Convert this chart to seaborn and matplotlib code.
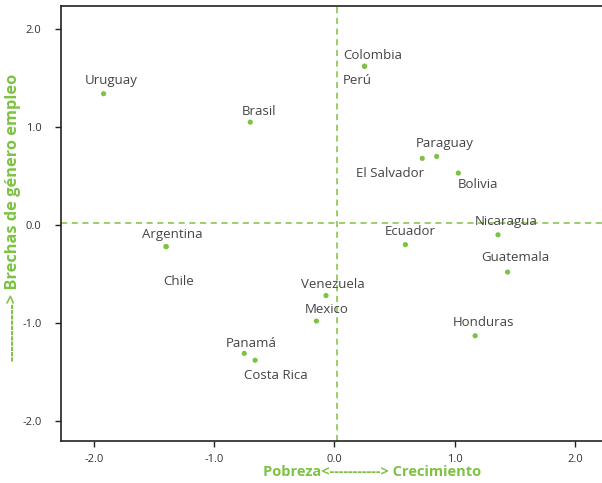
import numpy as np
import pandas as pd
import matplotlib.pyplot as plt
import seaborn as sns

# data
paises = ['Uruguay', 'Brasil', 'Colombia', 'Perú', 'Paraguay', 'El Salvador', 'Bolivia',
          'Nicaragua', 'Ecuador', 'Guatemala', 'Honduras', 'Venezuela', 'Mexico',
          'Argentina', 'Chile', 'Panamá', 'Costa Rica']
crecimiento = [-1.92, -0.70, 0.25, 0.25, 0.85, 0.73, 1.03,
               1.36, 0.59, 1.44, 1.17, -0.07, -0.15,
               -1.40, -1.40, -0.75, -0.66]
brechas = [1.34, 1.05, 1.62, 1.62, 0.70, 0.68, 0.53,
           -0.10, -0.20, -0.48, -1.13, -0.72, -0.98,
           -0.22, -0.22, -1.31, -1.38]
ticks = [-2.0, -1.0, 0.0, 1.0, 2.0]

# label offsets in pixels (dx, dy)
offsets = {'Uruguay': (8, 13), 'Brasil': (9, 11), 'Colombia': (8, 11), 'Perú': (-7, -14),
           'Paraguay': (8, 13), 'El Salvador': (-32, -15), 'Bolivia': (20, -11),
           'Nicaragua': (8, 13), 'Ecuador': (5, 13), 'Guatemala': (8, 15),
           'Honduras': (8, 13), 'Venezuela': (7, 11), 'Mexico': (10, 12),
           'Argentina': (6, 12), 'Chile': (13, -35), 'Panamá': (7, 10),
           'Costa Rica': (21, -15)}

verde = '#7dc242'
gris = '#444444'

df = pd.DataFrame({'pais': paises, 'x': crecimiento, 'y': brechas})

sns.set_style('white')
plt.rcParams['font.family'] = ['Open Sans', 'DejaVu Sans']

fig = plt.figure(figsize=(6.02, 4.83), dpi=100)
ax = fig.add_axes([61 / 602, 42 / 483, 541 / 602, 435 / 483])

ax.axhline(0.02, color=verde, linestyle=(0, (4, 3)), linewidth=1.1, zorder=1)
ax.axvline(0.02, color=verde, linestyle=(0, (4, 3)), linewidth=1.1, zorder=1)

sns.scatterplot(data=df, x='x', y='y', ax=ax, color=verde, s=14, edgecolor='none', zorder=3)

for _, r in df.iterrows():
    dx, dy = offsets[r['pais']]
    ax.annotate(r['pais'], (r['x'], r['y']), xytext=(dx, dy), textcoords='offset pixels',
                ha='center', va='center', fontsize=9.5, color=gris, zorder=4)

ax.set_xlim(-2.274, 2.225)
ax.set_ylim(-2.204, 2.235)
ax.set_xticks(ticks)
ax.set_yticks(ticks)
ax.set_xticklabels([f'{t:.1f}' for t in ticks])
ax.set_yticklabels([f'{t:.1f}' for t in ticks])
ax.tick_params(axis='both', which='both', direction='out', length=4, width=1,
               color='#222222', labelsize=8, labelcolor='#333333',
               bottom=True, left=True)
ax.tick_params(axis='x', pad=5)
ax.tick_params(axis='y', pad=10)
ax.set_xlabel('')
ax.set_ylabel('')

for side in ['top', 'left', 'bottom']:
    ax.spines[side].set_color('#222222')
    ax.spines[side].set_linewidth(1.2)
ax.spines['right'].set_visible(False)

fig.text(372 / 602, 1 - 472 / 483, 'Pobreza<-----------> Crecimiento', color=verde,
         fontsize=10.5, fontweight='bold', ha='center', va='center')
fig.text(13 / 602, 1 - 217 / 483, '-----------> Brechas de género empleo', color=verde,
         fontsize=11.8, fontweight='bold', ha='center', va='center', rotation=90)

fig.savefig('out.png', dpi=100)
